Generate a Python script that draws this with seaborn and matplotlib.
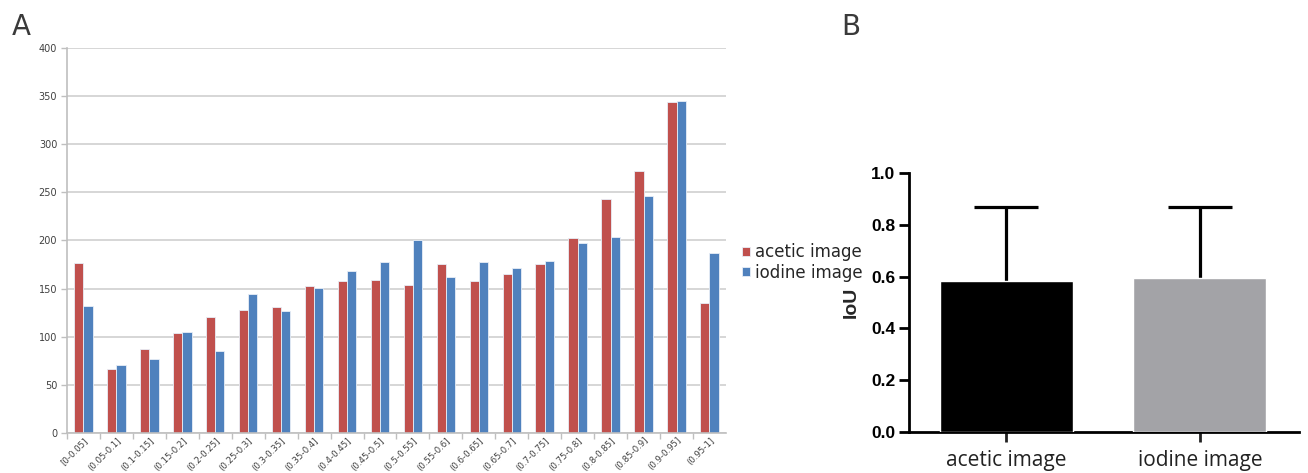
import matplotlib
matplotlib.use("Agg")
import matplotlib.pyplot as plt
import seaborn as sns
import pandas as pd
import numpy as np

bins = ["[0-0.05]", "(0.05-0.1]", "(0.1-0.15]", "(0.15-0.2]", "(0.2-0.25]",
        "(0.25-0.3]", "(0.3-0.35]", "(0.35-0.4]", "(0.4-0.45]", "(0.45-0.5]",
        "(0.5-0.55]", "(0.55-0.6]", "(0.6-0.65]", "(0.65-0.7]", "(0.7-0.75]",
        "(0.75-0.8]", "(0.8-0.85]", "(0.85-0.9]", "(0.9-0.95]", "(0.95-1]"]
acetic_counts = [177, 66, 87, 104, 120, 128, 131, 153, 158, 159,
                 154, 176, 158, 165, 176, 203, 243, 272, 344, 135]
iodine_counts = [132, 71, 77, 105, 85, 144, 127, 151, 168, 178,
                 201, 162, 178, 171, 179, 197, 204, 246, 345, 187]
series_names = ["acetic image", "iodine image"]

iou_groups = ["acetic image", "iodine image"]
iou_mean = [0.583, 0.595]
iou_sd = [0.286, 0.274]

sns.set_theme(style="white")
plt.rcParams['font.family'] = ['DejaVu Sans']

fig = plt.figure(figsize=(13.08, 4.73), dpi=100)

# ---------- Panel A ----------
axA = fig.add_axes([0.0512, 0.0846, 0.5038, 0.8139])
df = pd.DataFrame({
    "bin": bins * 2,
    "count": acetic_counts + iodine_counts,
    "series": [series_names[0]] * len(bins) + [series_names[1]] * len(bins),
})
sns.barplot(data=df, x="bin", y="count", hue="series", order=bins,
            hue_order=series_names, palette=["#C0504D", "#4F81BD"],
            width=0.56, saturation=1, edgecolor="#E8EEF7", linewidth=0.6,
            ax=axA)
axA.set_ylim(0, 400)
axA.set_xlim(-0.5, len(bins) - 0.5)
axA.set_yticks(np.arange(0, 401, 50))
axA.yaxis.grid(True, color="#D0D0D0", linewidth=1.2)
axA.set_axisbelow(True)
for s in ["top", "right"]:
    axA.spines[s].set_visible(False)
for s in ["left", "bottom"]:
    axA.spines[s].set_color("#BFBFBF")
    axA.spines[s].set_linewidth(1.2)
axA.set_xlabel("")
axA.set_ylabel("")
axA.tick_params(axis="y", labelsize=7, colors="#404040", length=4, width=1,
                color="#BFBFBF", left=True, pad=3)
axA.set_xticks(np.arange(len(bins)) - 0.5, minor=True)
axA.tick_params(axis="x", which="minor", length=4, width=1, color="#BFBFBF", bottom=True)
axA.tick_params(axis="x", which="major", length=0, labelsize=6.2, colors="#404040", pad=2)
for lab in axA.get_xticklabels():
    lab.set_rotation(45)
    lab.set_ha("right")
    lab.set_rotation_mode("anchor")
leg = axA.legend(loc="upper left", bbox_to_anchor=(1.015, 0.51), frameon=False,
                 fontsize=12, handlelength=0.45, handleheight=0.45,
                 handletextpad=0.3, labelspacing=0.15, borderaxespad=0)
for t in leg.get_texts():
    t.set_color("#262626")

fig.text(0.009, 0.942, "A", fontsize=20, color="#3a3a3a", va="center", ha="left")

# ---------- Panel B ----------
axB = fig.add_axes([0.695, 0.0867, 0.298, 0.5476])
dfB = pd.DataFrame({"group": iou_groups, "IoU": iou_mean})
sns.barplot(data=dfB, x="group", y="IoU", hue="group", order=iou_groups,
            palette=["#000000", "#A3A3A7"], saturation=1, width=0.686,
            legend=False, errorbar=None, ax=axB, zorder=3)
xs = np.arange(len(iou_groups))
_, caps, _ = axB.errorbar(xs, iou_mean, yerr=[np.zeros(len(iou_sd)), iou_sd],
                          fmt="none", ecolor="black", elinewidth=2.3,
                          capsize=23, capthick=2.3, zorder=2)
# hide the lower caps (one-sided error bars)
for c in caps:
    if np.allclose(c.get_ydata(), iou_mean):
        c.set_visible(False)
axB.set_ylim(0, 1.0)
axB.set_xlim(-0.5, 1.51)
axB.set_yticks([0.0, 0.2, 0.4, 0.6, 0.8, 1.0])
axB.set_yticklabels([f"{v:.1f}" for v in [0.0, 0.2, 0.4, 0.6, 0.8, 1.0]],
                    fontweight="bold", fontfamily="Liberation Sans")
for s in ["top", "right"]:
    axB.spines[s].set_visible(False)
for s in ["left", "bottom"]:
    axB.spines[s].set_color("black")
    axB.spines[s].set_linewidth(2)
axB.tick_params(axis="y", labelsize=12.5, colors="black", length=7, width=2,
                left=True, pad=3)
axB.tick_params(axis="x", labelsize=15, colors="#222222", length=7, width=2,
                bottom=True, pad=6)
for lab in axB.get_xticklabels():
    lab.set_fontfamily("Open Sans")
axB.set_xlabel("")
axB.set_ylabel("IoU", fontsize=14, fontweight="bold", fontfamily="Liberation Sans",
               labelpad=8)

fig.text(0.643, 0.942, "B", fontsize=20, color="#3a3a3a", va="center", ha="left")

fig.savefig("out.png", dpi=100, facecolor="white")
